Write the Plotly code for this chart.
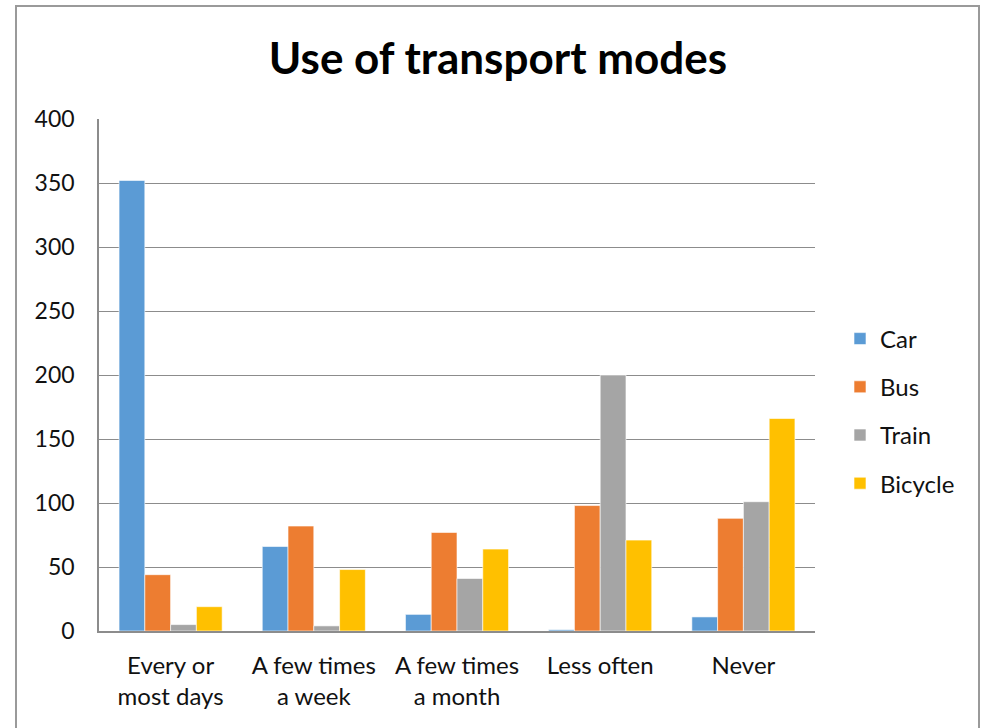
import plotly.graph_objects as go

categories = ["Every or<br>most days", "A few times<br>a week", "A few times<br>a month", "Less often", "Never"]
car = [352, 66, 13, 1, 11]
bus = [44, 82, 77, 98, 88]
train = [5, 4, 41, 200, 101]
bicycle = [19, 48, 64, 71, 166]

series = [("Car", car, "#5B9BD5"), ("Bus", bus, "#ED7D31"),
          ("Train", train, "#A5A5A5"), ("Bicycle", bicycle, "#FFC000")]

FONT = "Lato, 'Open Sans', sans-serif"

fig = go.Figure()
for name, vals, col in series:
    fig.add_trace(go.Bar(name=name, x=categories, y=vals, marker_color=col,
                         marker_line_color="white", marker_line_width=0.6,
                         legendgroup=name))

W, H = 981, 728
L, R, T, B = 99, 815, 119, 631

def px_x(p):
    return (p - L) / (R - L)

def px_y(p):
    return (B - p) / (B - T)

fig.add_shape(type="rect", xref="paper", yref="paper",
              x0=px_x(16), x1=px_x(979), y0=px_y(740), y1=px_y(6),
              line=dict(color="#9a9a9a", width=2), fillcolor="rgba(0,0,0,0)", layer="below")

fig.update_layout(
    width=W, height=H,
    margin=dict(l=L, r=W - R, t=T, b=H - B),
    paper_bgcolor="white", plot_bgcolor="white",
    font=dict(family=FONT, size=20, color="#111111"),
    title=dict(text="<b>Use of transport modes</b>", xref="container", x=498 / W, xanchor="center",
               y=1 - 59 / H, yanchor="middle",
               font=dict(family=FONT, size=44, color="#000000")),
    barmode="group", bargap=0.28, bargroupgap=0,
    showlegend=True,
    legend=dict(x=px_x(840), xanchor="left", y=px_y(411), yanchor="middle",
                font=dict(family=FONT, size=24, color="#111111"),
                tracegroupgap=14, itemwidth=30, bgcolor="rgba(0,0,0,0)"),
    xaxis=dict(showline=True, linecolor="#8c8c8c", linewidth=1.5, ticks="",
               tickfont=dict(size=24), showgrid=False, ticklabelstandoff=12),
    yaxis=dict(range=[0, 400], dtick=50, showgrid=True, gridcolor="#8c8c8c", gridwidth=1,
               showline=True, linecolor="#8c8c8c", linewidth=1.5, ticks="",
               ticklabelstandoff=18, tickfont=dict(size=23), zeroline=False),
)

fig.write_html("out.html", config={"displayModeBar": False},
               post_script="document.body.style.margin='0';document.body.style.overflow='hidden';")
